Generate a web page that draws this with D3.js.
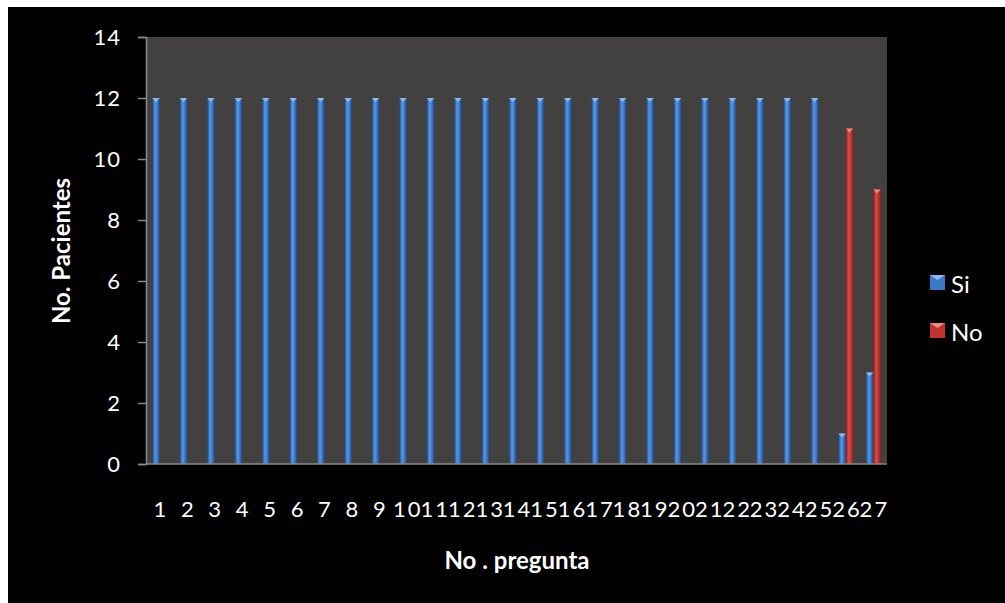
<!DOCTYPE html>
<html>
<head>
<meta charset="utf-8">
<script src="https://cdn.jsdelivr.net/npm/d3@7/dist/d3.min.js"></script>
<style>
  html, body { margin: 0; padding: 0; background: #ffffff; }
  svg { display: block; }
  text { font-family: Lato, "Open Sans", sans-serif; fill: #ffffff; }
</style>
</head>
<body>
<svg id="chart" width="1005" height="603"></svg>
<script>
// Question numbers and patient counts for each answer
const preguntas = d3.range(1, 28).map(String);
const si = [12,12,12,12,12,12,12,12,12,12,12,12,12,12,12,12,12,12,12,12,12,12,12,12,12,1,3];
const no = [0,0,0,0,0,0,0,0,0,0,0,0,0,0,0,0,0,0,0,0,0,0,0,0,0,11,9];
const series = ["Si", "No"];
const yTicks = [0, 2, 4, 6, 8, 10, 12, 14];

const colors = {
  Si: { dark: "#1d4a86", mid: "#3b78c8", light: "#5b97e2", cap: "#8fb8ea" },
  No: { dark: "#8a1f1c", mid: "#c0332f", light: "#d9504a", cap: "#e98a85" }
};

const svg = d3.select("#chart");

// black slide background
svg.append("rect").attr("x", 8).attr("y", 7).attr("width", 997).attr("height", 596)
  .attr("fill", "#000000");

const plot = { left: 146, right: 887, top: 37, bottom: 464 };

const x0 = d3.scaleBand().domain(preguntas).range([plot.left, plot.right]).paddingInner(0.46).paddingOuter(0.23);
const x1 = d3.scaleBand().domain(series).range([0, x0.bandwidth()]);
const y = d3.scaleLinear().domain([0, 14]).range([plot.bottom, plot.top]);

// gradients giving the bars a rounded look
const defs = svg.append("defs");
series.forEach(s => {
  const g = defs.append("linearGradient").attr("id", "grad-" + s)
    .attr("x1", "0%").attr("x2", "100%").attr("y1", "0%").attr("y2", "0%");
  g.append("stop").attr("offset", "0%").attr("stop-color", colors[s].dark);
  g.append("stop").attr("offset", "40%").attr("stop-color", colors[s].light);
  g.append("stop").attr("offset", "70%").attr("stop-color", colors[s].mid);
  g.append("stop").attr("offset", "100%").attr("stop-color", colors[s].dark);
});

// plot area
svg.append("rect")
  .attr("x", plot.left).attr("y", plot.top)
  .attr("width", plot.right - plot.left).attr("height", plot.bottom - plot.top)
  .attr("fill", "#434040");

// bars
const rows = preguntas.map((p, i) => ({ p, Si: si[i], No: no[i] }));
const groups = svg.append("g").selectAll("g").data(rows).join("g")
  .attr("transform", d => `translate(${x0(d.p)},0)`);

groups.selectAll("rect.bar").data(d => series.map(s => ({ s, v: d[s] })).filter(e => e.v > 0))
  .join("rect").attr("class", "bar")
  .attr("x", e => x1(e.s))
  .attr("width", x1.bandwidth())
  .attr("y", e => y(e.v))
  .attr("height", e => y(0) - y(e.v))
  .attr("fill", e => `url(#grad-${e.s})`);

// small bevel on top of each bar
groups.selectAll("path.cap").data(d => series.map(s => ({ s, v: d[s] })).filter(e => e.v > 0))
  .join("path").attr("class", "cap")
  .attr("d", e => {
    const xa = x1(e.s), w = x1.bandwidth(), yt = y(e.v);
    return `M${xa},${yt}L${xa + w},${yt}L${xa + w / 2},${yt + 4}Z`;
  })
  .attr("fill", e => colors[e.s].cap);

// y axis
const yAxis = svg.append("g").attr("transform", `translate(${plot.left},0)`)
  .call(d3.axisLeft(y).tickValues(yTicks).tickSize(8).tickPadding(17).tickFormat(d3.format("d")));
yAxis.select(".domain").attr("stroke", "#8a8a8a").attr("stroke-width", 1.5);
yAxis.selectAll(".tick line").attr("stroke", "#8a8a8a").attr("stroke-width", 1.5);
yAxis.selectAll(".tick text").style("font-size", "22px").attr("fill", "#ffffff")
  .style("font-family", "Lato, sans-serif").style("letter-spacing", "1px");

// x axis
const xAxis = svg.append("g").attr("transform", `translate(0,${plot.bottom})`)
  .call(d3.axisBottom(x0).tickSize(0).tickPadding(37).tickSizeOuter(0));
xAxis.select(".domain").attr("stroke", "#8a8a8a").attr("stroke-width", 1.5)
  .attr("d", `M${plot.left},0H${plot.right}`);
xAxis.selectAll(".tick text").style("font-size", "22px").attr("fill", "#ffffff")
  .style("font-family", "Lato, sans-serif").style("letter-spacing", "2px")
  .attr("dx", "0.05em");

// axis titles
svg.append("text")
  .attr("transform", `translate(70,251) rotate(-90)`)
  .attr("text-anchor", "middle")
  .style("font-size", "24px").style("font-weight", "bold")
  .text("No.  Pacientes");

svg.append("text")
  .attr("x", 517).attr("y", 569)
  .attr("text-anchor", "middle")
  .style("font-size", "24px").style("font-weight", "bold")
  .text("No . pregunta");

// legend
const legend = svg.append("g");
series.forEach((s, i) => {
  const ly = 275 + i * 48;
  legend.append("rect").attr("x", 930).attr("y", ly).attr("width", 15).attr("height", 15)
    .attr("fill", colors[s].mid);
  legend.append("path")
    .attr("d", `M930,${ly}L945,${ly}L937.5,${ly + 5}Z`)
    .attr("fill", colors[s].cap);
  legend.append("text").attr("x", 951).attr("y", ly + 18)
    .style("font-size", "24px").text(s);
});
</script>
</body>
</html>
